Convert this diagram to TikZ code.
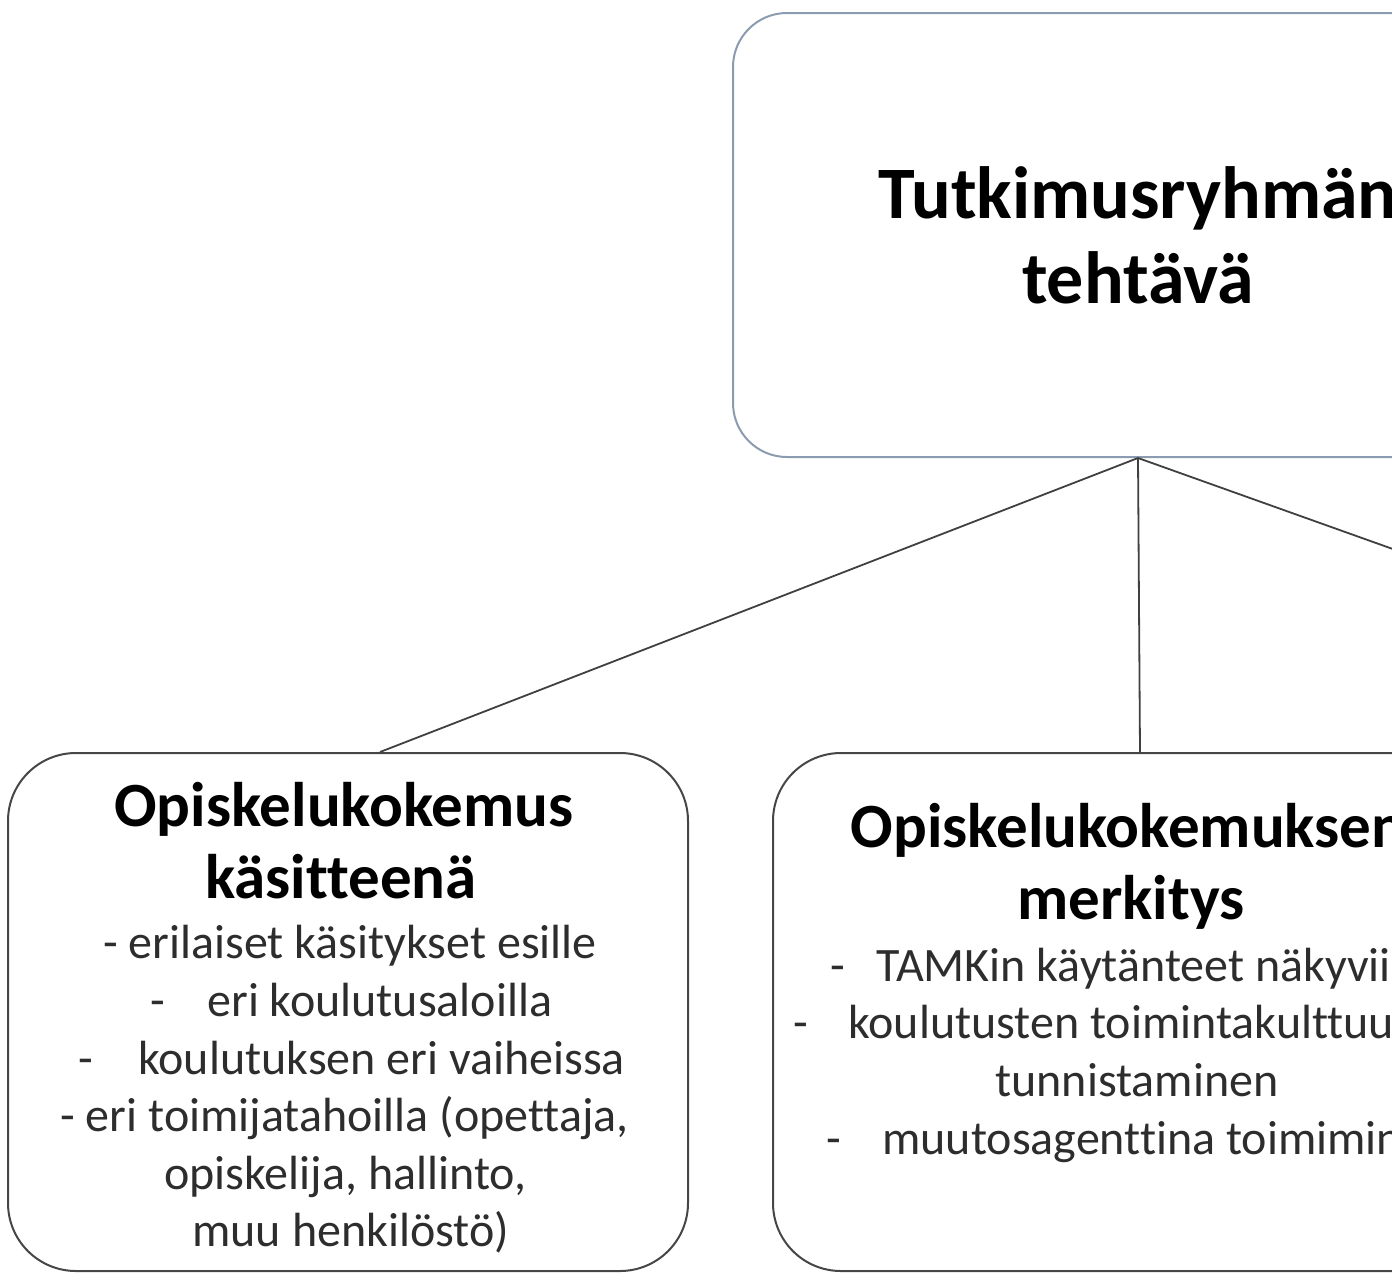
\documentclass[tikz,border=0pt]{standalone}
\usepackage{fontspec}
\setmainfont[RawFeature={-liga;-clig;-calt;-dlig}]{Carlito}
\definecolor{topedge}{RGB}{140,156,176}
\definecolor{boxgray}{RGB}{70,70,70}
\definecolor{linkgray}{RGB}{64,64,64}
\definecolor{bodygray}{RGB}{45,45,45}
\begin{document}
\begin{tikzpicture}[x=0.5pt,y=-0.5pt,
  topbox/.style={draw=topedge, line width=1pt, rounded corners=27pt, inner sep=0pt},
  subbox/.style={draw=boxgray, line width=1pt, rounded corners=34pt, inner sep=0pt},
  link/.style={draw=linkgray, line width=0.9pt},
  ttl/.style={font=\bfseries\fontsize{37}{45}\selectfont, anchor=base, inner sep=0pt},
  hdr/.style={font=\bfseries\fontsize{31.5}{38}\selectfont, anchor=base, inner sep=0pt},
  txt/.style={font=\fontsize{24}{29}\selectfont, text=bodygray, anchor=base west, inner sep=0pt},
  ctxt/.style={txt, anchor=base},
]
\useasboundingbox (0,0) rectangle (1392,1274);
\clip (0,0) rectangle (1392,1274);

% boxes
\node[topbox, minimum width=405pt, minimum height=222pt] (top) at (1138,235) {};
\node[subbox, minimum width=340pt, minimum height=259pt] (left) at (348,1012) {};
\node[subbox, minimum width=367pt, minimum height=259pt] (mid) at (1140,1012) {};
\coordinate (rightend) at (1964,753);

% connectors
\draw[link] (top.south) -- ([xshift=16pt]left.north);
\draw[link] (top.south) -- (mid.north);
\draw[link] (top.south) -- (rightend);

% top text
\node[ttl] (t1) at (1138,218) {Tutkimusryhmän};
\node[ttl] (t2) at (1138,303) {tehtävä};

% left box text
\node[hdr] (lh1) at (344,826) {Opiskelukokemus};
\node[hdr] (lh2) at (341,898) {käsitteenä};
\node[txt] (l1) at (103,958) {- erilaiset käsitykset esille};
\node[txt] (l2d) at (150,1016) {-};
\node[txt] (l2) at (207,1016) {eri koulutusaloilla};
\node[txt] (l3d) at (78,1074) {-};
\node[txt] (l3) at (138,1074) {koulutuksen eri vaiheissa};
\node[txt] (l4) at (60,1131) {- eri toimijatahoilla (opettaja,};
\node[txt] (l5) at (164,1189) {opiskelija, hallinto,};
\node[txt] (l6) at (192,1246) {muu henkilöstö)};

% middle box text
\node[hdr] (mh1) at (1128,847) {Opiskelukokemuksen};
\node[hdr] (mh2) at (1131,919) {merkitys};
\node[txt] (m1d) at (830,981) {-};
\node[txt] (m1) at (876,981) {TAMKin käytänteet näkyviin};
\node[txt] (m2d) at (793,1038) {-};
\node[txt] (m2) at (848,1038) {koulutusten toimintakulttuurin};
\node[ctxt] (m3) at (1137,1096) {tunnistaminen};
\node[txt] (m4d) at (826,1154) {-};
\node[txt] (m4) at (882,1154) {muutosagenttina toimiminen};
\end{tikzpicture}
\end{document}
